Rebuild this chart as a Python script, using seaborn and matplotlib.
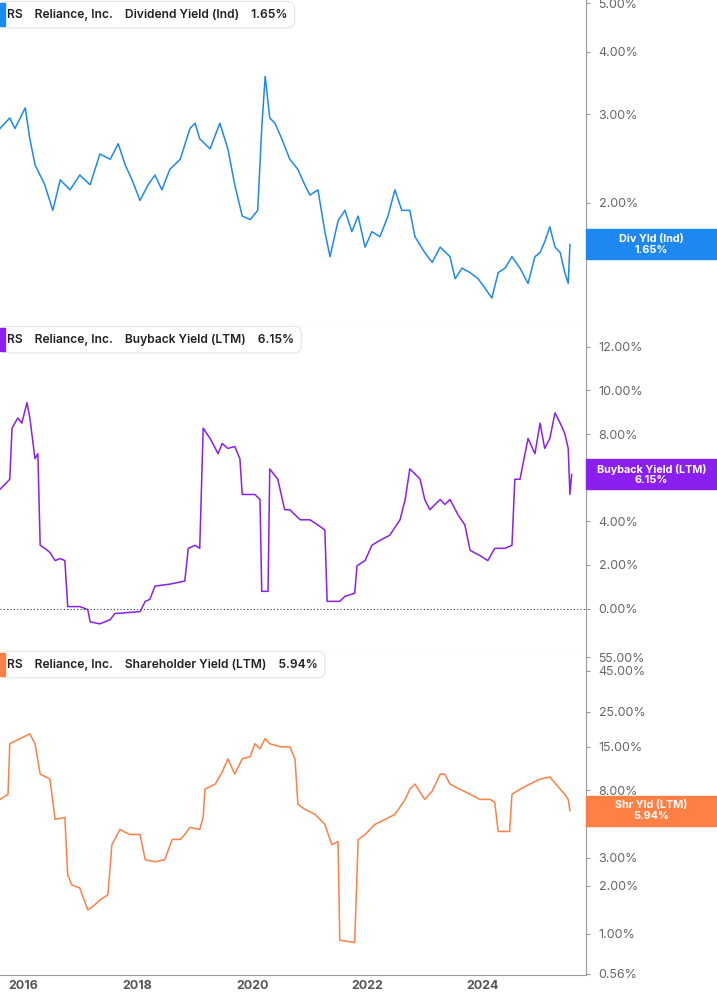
import numpy as np
import pandas as pd
import matplotlib
matplotlib.use("Agg")
import matplotlib.pyplot as plt
import seaborn as sns
from matplotlib.patches import FancyBboxPatch, Rectangle

plt.rcParams["font.family"] = "Inter"

div_t = [2015.60,2015.77,2015.86,2016.04,2016.12,2016.21,2016.38,2016.52,2016.65,2016.82,2016.99,2017.17,2017.34,2017.52,2017.66,2017.78,2017.90,2018.04,2018.18,2018.30,2018.42,2018.56,2018.74,2018.91,2019.00,2019.08,2019.26,2019.43,2019.57,2019.69,2019.82,2019.96,2020.09,2020.16,2020.22,2020.30,2020.39,2020.51,2020.65,2020.79,2020.91,2021.00,2021.14,2021.26,2021.35,2021.49,2021.61,2021.73,2021.84,2021.96,2022.08,2022.22,2022.36,2022.48,2022.60,2022.74,2022.83,2023.00,2023.13,2023.27,2023.44,2023.53,2023.65,2023.79,2023.93,2024.05,2024.17,2024.28,2024.40,2024.52,2024.66,2024.80,2024.92,2025.01,2025.09,2025.18,2025.27,2025.36,2025.44,2025.50,2025.53]
div_v = [2.81,2.95,2.81,3.09,2.68,2.38,2.17,1.93,2.22,2.12,2.27,2.17,2.50,2.44,2.62,2.38,2.22,2.02,2.17,2.27,2.12,2.33,2.44,2.81,2.88,2.68,2.56,2.88,2.56,2.17,1.88,1.85,1.93,2.81,3.57,2.95,2.88,2.68,2.44,2.33,2.17,2.07,2.12,1.75,1.56,1.84,1.93,1.75,1.88,1.63,1.75,1.71,1.88,2.12,1.93,1.93,1.71,1.59,1.52,1.63,1.56,1.41,1.48,1.45,1.41,1.35,1.29,1.45,1.48,1.56,1.48,1.38,1.56,1.59,1.67,1.79,1.63,1.59,1.45,1.38,1.65]

bb_t = [2015.60,2015.69,2015.77,2015.81,2015.91,2015.98,2016.07,2016.12,2016.21,2016.26,2016.30,2016.38,2016.47,2016.56,2016.65,2016.73,2016.78,2016.99,2017.13,2017.17,2017.34,2017.52,2017.60,2018.04,2018.13,2018.21,2018.30,2018.56,2018.82,2018.88,2019.00,2019.08,2019.14,2019.26,2019.40,2019.47,2019.57,2019.69,2019.78,2019.82,2020.04,2020.13,2020.16,2020.27,2020.30,2020.44,2020.56,2020.65,2020.83,2021.00,2021.14,2021.26,2021.30,2021.52,2021.61,2021.78,2021.82,2021.96,2022.08,2022.22,2022.39,2022.57,2022.66,2022.74,2022.83,2022.92,2023.00,2023.09,2023.18,2023.27,2023.35,2023.44,2023.58,2023.70,2023.79,2023.96,2024.10,2024.22,2024.40,2024.52,2024.57,2024.66,2024.80,2024.92,2025.01,2025.09,2025.18,2025.27,2025.36,2025.44,2025.50,2025.53,2025.56]
bb_v = [5.47,5.70,5.93,8.27,8.74,8.50,9.44,8.74,6.87,7.10,2.90,2.76,2.57,2.20,2.29,2.20,0.09,0.09,-0.05,-0.61,-0.70,-0.51,-0.23,-0.14,0.33,0.42,1.03,1.12,1.26,2.76,2.90,2.76,8.27,7.80,7.10,7.57,7.34,7.43,6.87,5.23,5.23,5.00,0.79,0.79,6.40,5.93,4.53,4.53,4.07,4.07,3.83,3.60,0.33,0.33,0.56,0.70,1.96,2.20,2.90,3.13,3.36,4.07,5.00,6.40,6.17,5.93,5.00,4.53,4.77,5.00,4.77,5.00,4.30,3.83,2.67,2.43,2.20,2.76,2.76,2.90,5.93,5.93,7.80,7.10,8.50,7.34,7.80,8.97,8.50,8.03,7.34,5.23,6.15]

sh_t = [2015.60,2015.74,2015.77,2015.95,2016.12,2016.21,2016.30,2016.47,2016.56,2016.73,2016.78,2016.85,2016.99,2017.13,2017.25,2017.34,2017.48,2017.55,2017.69,2017.86,2018.04,2018.13,2018.30,2018.47,2018.60,2018.74,2018.82,2018.91,2019.08,2019.14,2019.17,2019.35,2019.47,2019.57,2019.69,2019.82,2019.96,2020.04,2020.13,2020.22,2020.30,2020.48,2020.65,2020.74,2020.79,2020.91,2021.09,2021.26,2021.38,2021.49,2021.52,2021.78,2021.84,2021.96,2022.13,2022.31,2022.48,2022.66,2022.74,2022.83,2023.00,2023.13,2023.27,2023.35,2023.44,2023.61,2023.79,2023.96,2024.14,2024.22,2024.28,2024.48,2024.52,2024.66,2024.83,2025.01,2025.18,2025.36,2025.44,2025.50,2025.53]
sh_v = [7.0,7.55,15.7,16.9,18.1,15.7,10.1,9.40,5.24,5.40,2.35,2.03,1.94,1.41,1.52,1.63,1.76,3.64,4.53,4.21,4.21,2.92,2.84,2.92,3.92,3.92,4.21,4.67,4.53,5.40,8.12,8.74,10.4,12.6,10.1,12.6,13.0,15.7,14.6,16.9,15.7,15.0,15.0,12.6,6.53,6.07,5.64,4.87,3.64,3.80,0.91,0.88,3.92,4.21,4.87,5.24,5.64,7.0,8.12,8.74,7.0,7.89,10.1,10.1,8.74,8.12,7.55,7.0,7.0,6.72,4.40,4.40,7.55,8.12,8.74,9.40,9.70,8.12,7.55,7.0,5.94]

years = [2016, 2018, 2020, 2022, 2024]

blue = "#1E88F0"
purple = "#8A1FF0"
orange = "#FF7F45"
grid_gray = "#999999"
txt_gray = "#666666"

fig = plt.figure(figsize=(7.17, 10.05), dpi=100)
L, R = 0.0, 586/717
pan = [(1-325/1005, 1.0), (1-650/1005, 1-325/1005), (1-975/1005, 1-650/1005)]
axes = [fig.add_axes([L, b, R-L, t-b]) for b, t in pan]

data = [
    (div_t, div_v, blue, "Dividend Yield (Ind)", "1.65%", "Div Yld (Ind)", 1.65),
    (bb_t, bb_v, purple, "Buyback Yield (LTM)", "6.15%", "Buyback Yield (LTM)", 6.15),
    (sh_t, sh_v, orange, "Shareholder Yield (LTM)", "5.94%", "Shr Yld (LTM)", 5.94),
]
for ax, (t, v, c, name, val, short, last) in zip(axes, data):
    df = pd.DataFrame({"t": t, "v": v})
    sns.lineplot(data=df, x="t", y="v", ax=ax, color=c, lw=1.1, estimator=None, sort=False)
    ax.set_xlim(2015.6, 2025.81)
    ax.set_xlabel(""); ax.set_ylabel("")
    ax.yaxis.tick_right()
    for s in ["left", "top"]:
        ax.spines[s].set_visible(False)
    ax.spines["right"].set_color(grid_gray)
    ax.spines["bottom"].set_color("#bbbbbb")
    ax.tick_params(axis="y", colors=grid_gray, labelcolor=txt_gray, labelsize=9, length=3, pad=6)
    ax.tick_params(axis="x", length=0)
    ax.set_facecolor("white")
    # header
    fig.text(0.028, 0, "")
    ax.text(0.012, 0.955, f"RS    Reliance, Inc.    {name}    {val}", transform=ax.transAxes,
            fontsize=8.7, color="#222222", va="center", ha="left", fontweight="semibold",
            bbox=dict(boxstyle="round,pad=0.6", fc="white", ec="#e4e4e4", lw=0.8))
    ax.add_patch(Rectangle((0.0, 0.92), 0.008, 0.07, transform=ax.transAxes, color=c, clip_on=False, zorder=5))
    # right label
    yfrac = ax.transLimits.transform((0, last))[1] if False else None
    ax._lastinfo = (last, short, val, c)

# scales
a0, a1, a2 = axes
a0.set_yscale("log"); a0.set_ylim(1.14, 5.07)
a0.set_yticks([2, 3, 4, 5]); a0.set_yticklabels(["2.00%", "3.00%", "4.00%", "5.00%"])
a0.minorticks_off()
a1.set_ylim(-1.9, 13.0)
a1.set_yticks(range(0, 13, 2)); a1.set_yticklabels([f"{x:.2f}%" for x in range(0, 13, 2)])
a1.axhline(0, color="#333333", ls=(0, (1, 2)), lw=0.8)
a2.set_yscale("log"); a2.set_ylim(0.55, 61)
st = [0.56, 1, 2, 3, 6, 8, 15, 25, 45, 55]
a2.set_yticks(st); a2.set_yticklabels([f"{x:.2f}%" for x in st])
a2.minorticks_off()
for ax in (a0, a1):
    ax.set_xticks([])
a2.set_xticks(years)
a2.set_xticklabels([str(y) for y in years], fontsize=9, color="#555555", fontweight="bold")
a2.spines["bottom"].set_color(grid_gray)

fig.canvas.draw()
for ax in axes:
    last, short, val, c = ax._lastinfo
    yd = ax.transData.transform((2025, last))[1]
    yf = yd / fig.bbox.height
    h = 30 / 1005
    fig.patches.append(Rectangle((R, yf - h/2), 1 - R, h, transform=fig.transFigure, color=c, zorder=10))
    fig.text((R + 1) / 2, yf, f"{short}\n{val}", ha="center", va="center", color="white",
             fontsize=7.8, fontweight="bold", zorder=11, linespacing=1.1)

fig.savefig("out.png", dpi=100, facecolor="white")
